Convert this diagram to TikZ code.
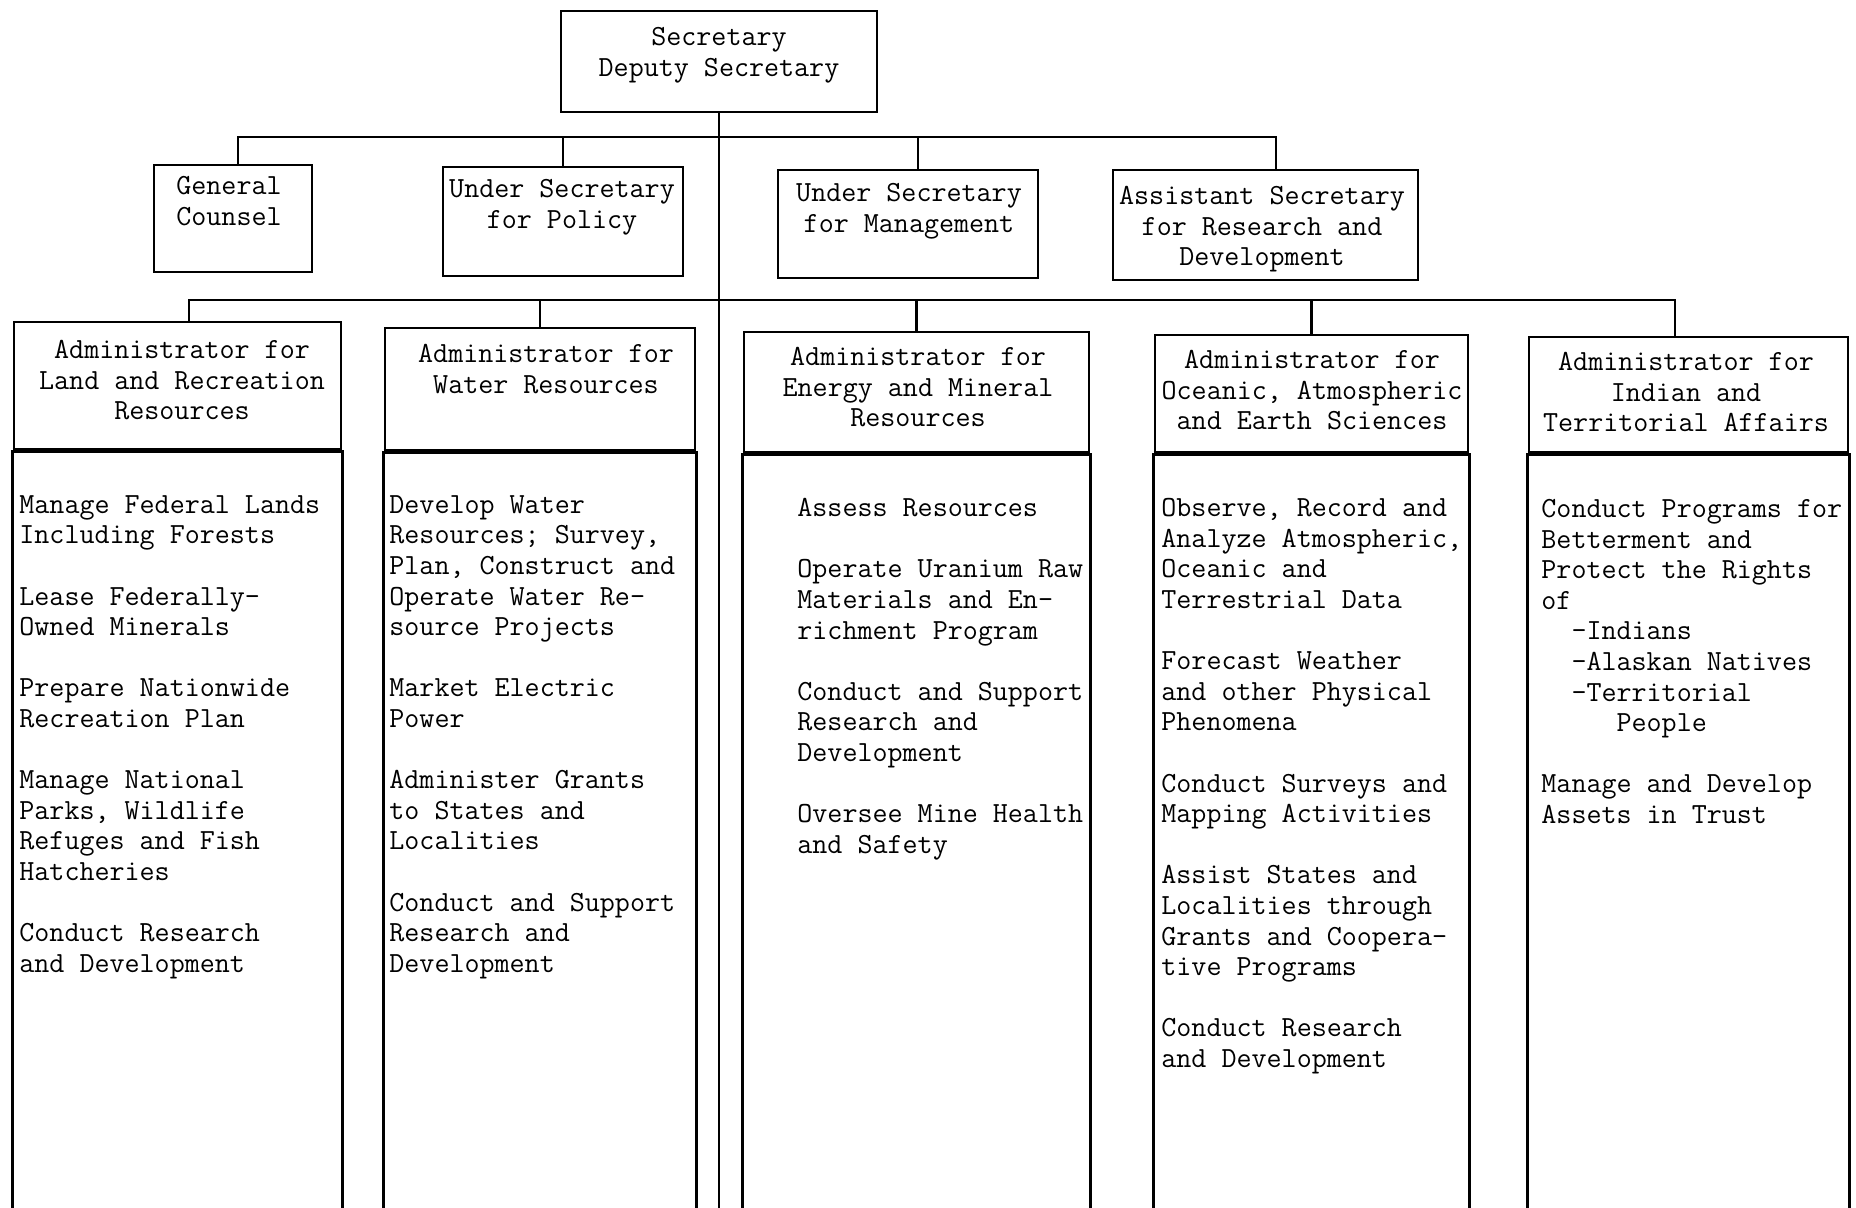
\documentclass[tikz,border=0pt]{standalone}
\usepackage{fontspec}
\usetikzlibrary{fit}
\newcommand\chartfont{\fontsize{14.6}{15.3}\selectfont\ttfamily}
\newcommand\gap{\\[15.3pt]}
\tikzset{
    BX/.style ={draw, line width=1.3pt, inner sep=0pt},
    HD/.style ={align=center, anchor=north, inner sep=0pt, font=\chartfont},
    LS/.style ={align=left, anchor=north west, inner sep=0pt, font=\chartfont},
    LN/.style ={line width=1.3pt},
    DV/.style ={line width=2.2pt}}
\begin{document}
\begin{tikzpicture}[x=0.5pt, y=-0.5pt]
        \useasboundingbox (0,0) rectangle (1856,1208);
        \coordinate (bot) at (0,1208);
        \coordinate (b1) at (719,137);
        \coordinate (b2) at (719,300);
        % boxes
        \node[BX, fit={(561,11) (877,112)}] (sec) {};
        \node[BX, fit={(154,165) (312,272)}] (gc) {};
        \node[BX, fit={(443,167) (683,276)}] (usp) {};
        \node[BX, fit={(778,170) (1038,278)}] (usm) {};
        \node[BX, fit={(1113,170) (1418,280)}] (asr) {};
        \node[BX, fit={(14,322) (341,449)}] (land) {};
        \node[BX, fit={(385,328) (695,450)}] (water) {};
        \node[BX, fit={(744,332) (1089,452)}] (energy) {};
        \node[BX, fit={(1155,335) (1468,452)}] (ocean) {};
        \node[BX, fit={(1529,337) (1848,452)}] (ind) {};
        % box texts
        \node[HD] (sect) at (719,27) {Secretary\\Deputy Secretary};
        \node[HD] (gct) at (229,176) {General\\Counsel};
        \node[HD] (uspt) at (562,179) {Under Secretary\\for Policy};
        \node[HD] (usmt) at (909,183) {Under Secretary\\for Management};
        \node[HD] (asrt) at (1262,186) {Assistant Secretary\\for Research and\\Development};
        \node[HD] (landt) at (182,340) {Administrator for\\Land and Recreation\\Resources};
        \node[HD] (watert) at (546,344) {Administrator for\\Water Resources};
        \node[HD] (energyt) at (918,347) {Administrator for\\Energy and Mineral\\Resources};
        \node[HD] (oceant) at (1312,350) {Administrator for\\Oceanic, Atmospheric\\and Earth Sciences};
        \node[HD] (indt) at (1686,352) {Administrator for\\Indian and\\Territorial Affairs};
        % function lists
        \node[LS] (landl) at (19,495) {Manage Federal Lands\\Including Forests\gap
            Lease Federally-\\Owned Minerals\gap
            Prepare Nationwide\\Recreation Plan\gap
            Manage National\\Parks, Wildlife\\Refuges and Fish\\Hatcheries\gap
            Conduct Research\\and Development};
        \node[LS] (waterl) at (389,495) {Develop Water\\Resources; Survey,\\Plan, Construct and\\Operate Water Re-\\source Projects\gap
            Market Electric\\Power\gap
            Administer Grants\\to States and\\Localities\gap
            Conduct and Support\\Research and\\Development};
        \node[LS] (energyl) at (797,498) {Assess Resources\gap
            Operate Uranium Raw\\Materials and En-\\richment Program\gap
            Conduct and Support\\Research and\\Development\gap
            Oversee Mine Health\\and Safety};
        \node[LS] (oceanl) at (1161,498) {Observe, Record and\\Analyze Atmospheric,\\Oceanic and\\Terrestrial Data\gap
            Forecast Weather\\and other Physical\\Phenomena\gap
            Conduct Surveys and\\Mapping Activities\gap
            Assist States and\\Localities through\\Grants and Coopera-\\tive Programs\gap
            Conduct Research\\and Development};
        \node[LS] (indl) at (1541,499) {Conduct Programs for\\Betterment and\\Protect the Rights\\of\\
            \hphantom{xx}-Indians\\\hphantom{xx}-Alaskan Natives\\\hphantom{xx}-Territorial\\\hphantom{xxxxx}People\gap
            Manage and Develop\\Assets in Trust};
        % connectors
        \draw[LN] (sec.south) -- (sec.south |- bot);
        \draw[LN] ([xshift=2.5pt]gc.north) |- (b1) -| ([xshift=5.25pt]asr.north);
        \draw[LN] (usp.north) -- (usp.north |- b1);
        \draw[LN] ([xshift=5pt]usm.north) -- ([xshift=5pt]usm.north |- b1);
        \draw[LN] ([xshift=5.75pt]land.north) |- (b2) -| ([xshift=-6.75pt]ind.north);
        \draw[LN] (water.north) -- (water.north |- b2);
        \draw[LN] (energy.north) -- (energy.north |- b2);
        \draw[LN] (ocean.north) -- (ocean.north |- b2);
        % columns
        \draw[DV] (land.south west) -- (land.south east);
        \draw[DV] (water.south west) -- (water.south east);
        \draw[DV] (energy.south west) -- (energy.south east);
        \draw[DV] (ocean.south west) -- (ocean.south east);
        \draw[DV] (ind.south west) -- (ind.south east);
        \draw[LN] (land.south west) -- (land.south west |- bot);
        \draw[LN] (land.south east) -- (land.south east |- bot);
        \draw[LN] (water.south west) -- (water.south west |- bot);
        \draw[LN] (water.south east) -- (water.south east |- bot);
        \draw[LN] (energy.south west) -- (energy.south west |- bot);
        \draw[LN] (energy.south east) -- (energy.south east |- bot);
        \draw[LN] (ocean.south west) -- (ocean.south west |- bot);
        \draw[LN] (ocean.south east) -- (ocean.south east |- bot);
        \draw[LN] (ind.south west) -- (ind.south west |- bot);
        \draw[LN] (ind.south east) -- (ind.south east |- bot);
\end{tikzpicture}
\end{document}
